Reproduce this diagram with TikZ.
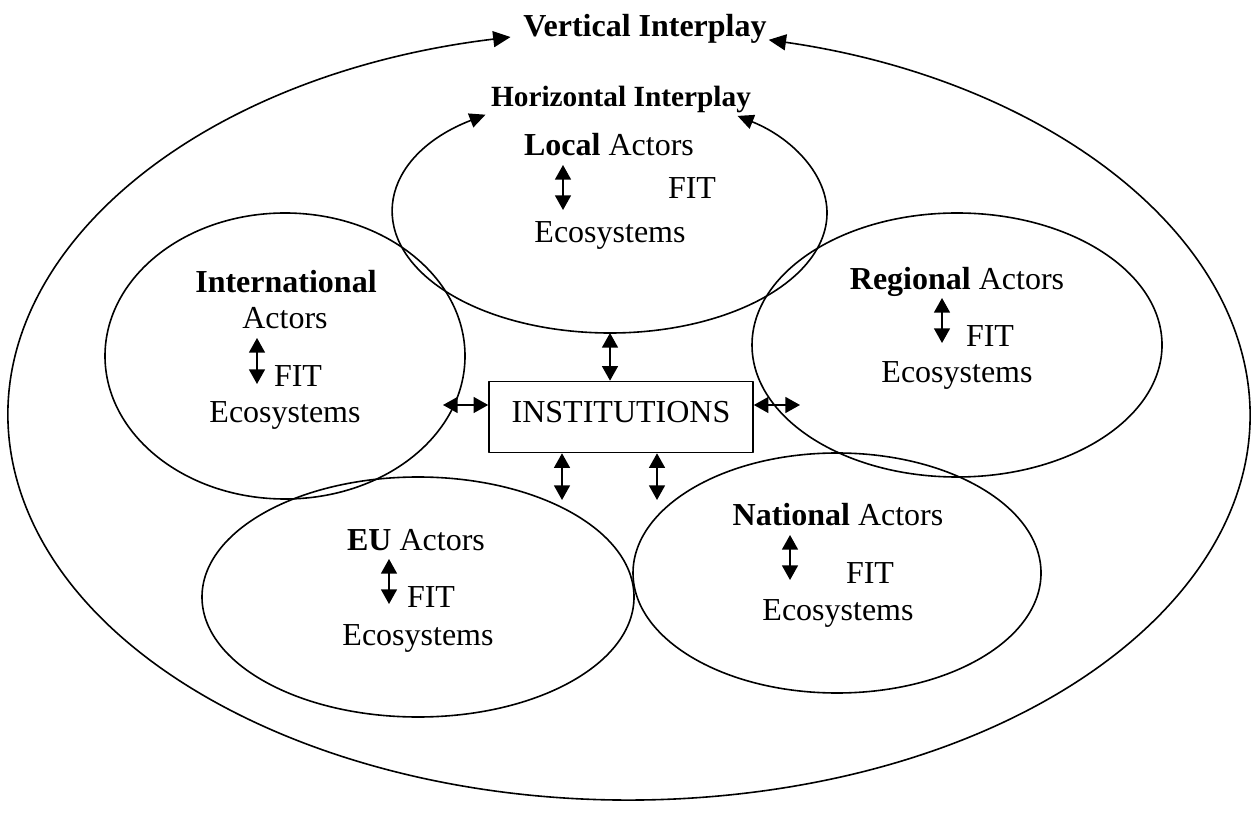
\documentclass[tikz,border=0pt]{standalone}
\usepackage{fontspec}
\setmainfont{Liberation Serif}
\usetikzlibrary{arrows.meta}
\usetikzlibrary{shapes.geometric}

\tikzset{
  txt/.style={anchor=base, inner sep=0pt, font=\fontsize{12}{14}\selectfont},
  actorset/.style={ellipse, draw, inner sep=0pt, outer sep=0pt},
  dbl/.style={<->},
}

\begin{document}
\begin{tikzpicture}[line cap=round,line join=round,>={Triangle[length=5.5pt,width=6pt]},x=0.375pt,y=0.375pt,line width=0.6pt]
  \useasboundingbox (0,0) rectangle (1257,817);

  % vertical interplay: big ring, open at the top
  \coordinate (outer) at (629,402);
  \node[txt,font=\fontsize{12}{14}\selectfont\bfseries] (vert) at (645,780) {Vertical Interplay};
  \draw[<->,>={Triangle[length=6.5pt,width=6pt]}] ([shift={(101:232.875pt and 144.375pt)}]outer) arc[start angle=101,end angle=437,x radius=232.875pt,y radius=144.375pt];

  % horizontal interplay: local ring, open at the top
  \node[ellipse,inner sep=0pt,outer sep=0pt,minimum width=162.75pt,minimum height=90pt] (loc) at (610,604) {};
  \node[txt,font=\fontsize{11}{13}\selectfont\bfseries] (horiz) at (621,710) {Horizontal Interplay};
  \draw[<->,>={Triangle[length=6pt,width=5.5pt]}] ([shift={(125:81.375pt and 45pt)}]loc) arc[start angle=125,end angle=414,x radius=81.375pt,y radius=45pt];

  % the other actor rings
  \node[actorset,minimum width=135pt,minimum height=107.25pt] (intl) at (285,461) {};
  \node[actorset,minimum width=153.75pt,minimum height=99pt] (reg) at (957,472) {};
  \node[actorset,minimum width=162pt,minimum height=90pt] (eu) at (418,220) {};
  \node[actorset,minimum width=153pt,minimum height=90pt] (nat) at (837,244) {};

  % centre box
  \node[draw,inner sep=0pt,text depth=4pt,minimum width=99pt,minimum height=26.625pt,font=\fontsize{12}{14}\selectfont] (box) at (621,400) {INSTITUTIONS};

  % labels
  \node[txt] (locA) at (609,661) {\textbf{Local} Actors};
  \node[txt] (locF) at (692,618) {FIT};
  \node[txt] (locE) at (610,574) {Ecosystems};

  \node[txt] (intlT) at (286,524) {\textbf{International}};
  \node[txt] (intlA) at (285,488) {Actors};
  \node[txt] (intlF) at (298,430) {FIT};
  \node[txt] (intlE) at (285,394) {Ecosystems};

  \node[txt] (regA) at (957,527) {\textbf{Regional} Actors};
  \node[txt] (regF) at (990,470) {FIT};
  \node[txt] (regE) at (957,434) {Ecosystems};

  \node[txt] (euA) at (416,267) {\textbf{EU} Actors};
  \node[txt] (euF) at (431,210) {FIT};
  \node[txt] (euE) at (418,172) {Ecosystems};

  \node[txt] (natA) at (838,292) {\textbf{National} Actors};
  \node[txt] (natF) at (870,234) {FIT};
  \node[txt] (natE) at (838,197) {Ecosystems};

  % actors <-> ecosystems inside each ring
  \foreach \n/\x/\t/\b in {loc/563/652/607, intl/257/479/433, reg/942/519/474, eu/389/258/213, nat/790/282/237} {
    \coordinate (\n Up) at (\x,\t);
    \coordinate (\n Dn) at (\x,\b);
    \draw[dbl] (\n Up) -- (\n Dn);
  }

  % rings <-> institutions
  \coordinate (intlGate) at (443,412);
  \coordinate (regGate) at (800,412);
  \coordinate (euGate) at (562,317);
  \coordinate (natGate) at (657,317);
  \draw[dbl] (loc.south) -- (loc.south |- box.north);
  \draw[dbl] (intlGate) -- (intlGate -| box.west);
  \draw[dbl] (regGate -| box.east) -- (regGate);
  \draw[dbl] (euGate |- box.south) -- (euGate);
  \draw[dbl] (natGate |- box.south) -- (natGate);
\end{tikzpicture}
\end{document}
